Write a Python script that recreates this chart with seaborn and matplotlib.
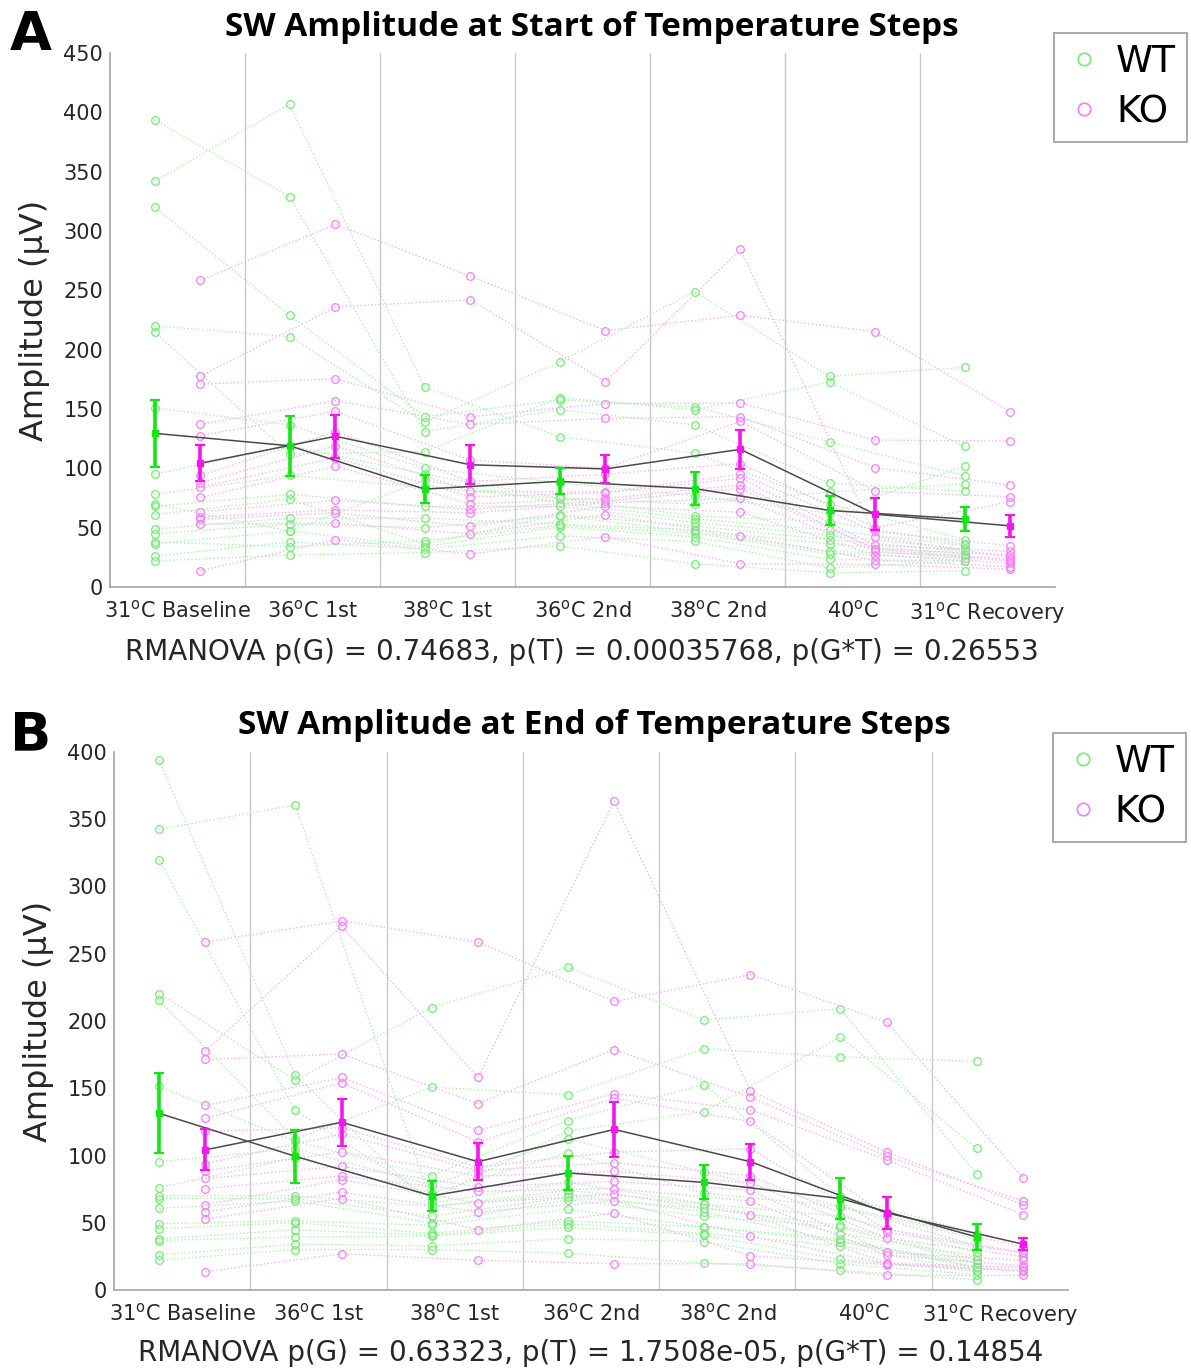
import numpy as np
import pandas as pd
import matplotlib
matplotlib.use("Agg")
import matplotlib.pyplot as plt
import seaborn as sns
from matplotlib.lines import Line2D

# ---------------- data ----------------
CONDITIONS = [r"31$^{\mathrm{o}}$C Baseline", r"36$^{\mathrm{o}}$C 1st", r"38$^{\mathrm{o}}$C 1st",
              r"36$^{\mathrm{o}}$C 2nd", r"38$^{\mathrm{o}}$C 2nd", r"40$^{\mathrm{o}}$C",
              r"31$^{\mathrm{o}}$C Recovery"]
GROUPS = ["WT", "KO"]

TITLE_A = "SW Amplitude at Start of Temperature Steps"
TITLE_B = "SW Amplitude at End of Temperature Steps"
STATS_A = "RMANOVA p(G) = 0.74683, p(T) = 0.00035768, p(G*T) = 0.26553"
STATS_B = "RMANOVA p(G) = 0.63323, p(T) = 1.7508e-05, p(G*T) = 0.14854"

# individual animals (rows) x conditions (columns)
A_WT = [
    [393.5, 329, 131, 149.5, 136.5, 87.6, 80.6],
    [342, 406.8, 168.5, 126.5, 113, 70, 40],
    [320, 229, 143.5, 157.6, 152, 122.3, 93.6],
    [220, 211, 139, 189.6, 249, 177.6, 185],
    [215, 112, 114, 159.5, 149.5, 172.7, 118.4],
    [151, 136.5, 100, 88, 77, 62, 102],
    [95, 119, 95, 75, 70, 80, 87],
    [78, 94, 84, 74.6, 60, 55, 36.2],
    [70, 47, 90, 71, 57.4, 48, 35],
    [68, 78, 68, 68, 54.4, 43.8, 31.7],
    [61, 74, 36, 61, 51.3, 40, 30],
    [49, 58, 58, 53, 48, 36.2, 28],
    [45, 53, 50, 60, 46.8, 30, 26.6],
    [38, 34, 39, 52, 45.3, 28, 24.2],
    [36.5, 47, 34, 50.7, 42.3, 23.3, 22],
    [26, 38, 32, 43, 38.4, 16, 22],
    [22, 27, 29, 34.7, 19.6, 12, 13.6],
]
A_KO = [
    [258.5, 305.6, 262, 216, 229, 215, 147.7],
    [177.5, 236, 242, 173, 284.5, 42.3, 25],
    [171, 175.5, 143.5, 154.6, 155, 123.8, 123],
    [137, 157, 137, 142, 143.5, 100.6, 85.8],
    [127.5, 148, 107, 100, 139.5, 80.6, 76],
    [94, 131, 89, 95, 104, 50, 72],
    [88, 119, 80.6, 80, 95, 46.8, 34.7],
    [84, 109, 76, 79.4, 91.5, 35, 30],
    [75.5, 102, 70, 74.6, 86, 32.3, 27],
    [63.5, 73, 65.5, 72.5, 83, 31.7, 23.3],
    [59, 65, 62.5, 71, 74.6, 30, 22],
    [57, 62.5, 51, 68, 63, 27, 20],
    [53, 54, 44.7, 61, 43, 22.7, 17],
    [13.6, 40, 27.8, 42.3, 19.6, 19, 15],
]
B_WT = [
    [394, 160, 62, 71.4, 58.1, 36, 20],
    [342.5, 360.6, 64.8, 80, 64.2, 42, 25],
    [320, 133.5, 68, 118, 132.7, 188.1, 105.3],
    [220.4, 156, 210, 239.9, 200.7, 209.2, 86.1],
    [215.3, 112.2, 150.8, 145.2, 179.4, 173.2, 170],
    [151.4, 110.6, 85, 126, 152.7, 70, 42],
    [95.4, 105, 78, 112.2, 88, 62.1, 38],
    [76.2, 98, 72, 102, 72, 62, 33],
    [70, 70.1, 62.1, 74, 64, 55, 28],
    [68, 68, 55, 68.8, 60.8, 48, 22.1],
    [60.8, 66.1, 50.1, 67, 55, 46.6, 20],
    [49.3, 51.4, 48, 60, 47, 38.1, 17],
    [45.6, 50.1, 42.1, 51.4, 46.9, 36, 16.8],
    [38.1, 44.8, 40.8, 49.3, 42.1, 32.8, 14.1],
    [36.8, 39.4, 40, 46.6, 40.8, 22.7, 14],
    [26.1, 34.1, 32.8, 38.1, 36, 19.5, 11.5],
    [22.1, 30.1, 30.1, 27.4, 20, 14.7, 7.5],
]
B_KO = [
    [258.8, 274.5, 258.8, 214.5, 234.5, 199, 83.4],
    [177.8, 270.5, 158, 363.2, 147.9, 102.6, 63.4],
    [171.4, 175.4, 138.6, 178.8, 143.4, 99.4, 66.1],
    [137.2, 158, 118.6, 146, 134, 96.7, 56],
    [127.7, 154, 110, 142.6, 125.3, 55, 32],
    [118, 120.7, 91.4, 102.6, 105, 45, 28],
    [94, 116, 88.7, 94.6, 85, 42.9, 27.4],
    [88.7, 102.6, 84.7, 88.2, 79.4, 38.6, 24.8],
    [82.9, 92, 76.8, 80.7, 74.1, 28, 22],
    [75.4, 84.7, 73.3, 75.4, 66.1, 26, 18],
    [63.4, 82, 64.8, 71.4, 56, 20, 16.8],
    [58.1, 72.8, 58.1, 66.1, 40, 19.5, 14.7],
    [52.8, 68, 44.8, 57.3, 25.3, 18.9, 14],
    [13.6, 26.9, 22.1, 19.5, 19.5, 10.9, 10.9],
]

# group means and SEM
A_WT_MEAN = [129.5, 119, 82.5, 89, 83, 64.5, 57.3]
A_WT_SEM = [28, 25.5, 11.5, 11, 13.5, 12, 10.5]
A_KO_MEAN = [104.3, 127, 103, 99.5, 116, 61.3, 51.5]
A_KO_SEM = [15, 18, 16.5, 11.6, 16.6, 13.5, 9]
B_WT_MEAN = [131.4, 99.4, 70, 87, 80, 68, 39.4]
B_WT_SEM = [29.6, 19.6, 11.3, 12.7, 12.7, 15, 10]
B_KO_MEAN = [104.2, 124.7, 95.4, 119.4, 95.4, 57.3, 34.1]
B_KO_SEM = [15.3, 17.3, 13.7, 20.4, 13.4, 11.6, 4.5]

# ---------------- style ----------------
sns.set_theme(style="white")
plt.rcParams["font.family"] = ["DejaVu Sans"]
plt.rcParams["mathtext.fontset"] = "dejavusans"

OFFSET = {"WT": -0.17, "KO": 0.17}
LINE_COL = {"WT": "#a8f5a8", "KO": "#f9aef9"}
MARK_COL = {"WT": "#72ee72", "KO": "#fb7cfb"}
ERR_COL = {"WT": "#14e614", "KO": "#f516ee"}
TEXT_COL = "#262626"
AX_COL = "#a6a6a6"

W, H = 1191, 1370
fig = plt.figure(figsize=(W / 100, H / 100), dpi=100)


def long_df(table, group):
    rows = []
    for s, vals in enumerate(table):
        for c, v in enumerate(vals):
            rows.append({"subject": f"{group}{s}", "x": c + 1 + OFFSET[group], "value": v})
    return pd.DataFrame(rows)


def panel(rect, tables, means, sems, ymax, title, stats, letter, title_xy, letter_xy, stats_xy, legend_xy):
    ax = fig.add_axes(rect)
    for g in GROUPS:
        df = long_df(tables[g], g)
        sns.lineplot(data=df, x="x", y="value", units="subject", estimator=None, sort=False,
                     color=LINE_COL[g], linestyle=":", linewidth=1.0,
                     marker="o", markersize=5.5, markerfacecolor="none",
                     markeredgecolor=MARK_COL[g], markeredgewidth=0.9,
                     legend=False, ax=ax, zorder=2)
    for g in GROUPS:
        xs = np.arange(1, 8) + OFFSET[g]
        ax.plot(xs, means[g], color="#4a4a4a", lw=1.1, zorder=4)
        ax.errorbar(xs, means[g], yerr=sems[g], fmt="s", color=ERR_COL[g], ms=5,
                    elinewidth=2.6, capsize=3.5, capthick=1.6, zorder=5)
    for b in np.arange(1.5, 7.5, 1.0):
        ax.axvline(b, color="#c9c9c9", lw=1.0, zorder=1)
    ax.set_xlim(0.5, 7.5)
    ax.set_ylim(0, ymax)
    ax.set_yticks(np.arange(0, ymax + 1, 50))
    ax.set_xticks(np.arange(1, 8))
    ax.set_xticklabels(CONDITIONS)
    ax.set_xlabel("")
    ax.set_ylabel("Amplitude (μV)", fontsize=23, color=TEXT_COL)
    ax.yaxis.set_label_coords(-0.063, 0.5)
    ax.tick_params(axis="both", direction="in", length=6, width=1, color=AX_COL,
                   labelsize=15, labelcolor=TEXT_COL)
    ax.tick_params(axis="x", pad=9, labelsize=15)
    ax.tick_params(axis="y", pad=5)
    for side in ["top", "right"]:
        ax.spines[side].set_visible(False)
    for side in ["left", "bottom"]:
        ax.spines[side].set_color(AX_COL)
        ax.spines[side].set_linewidth(1.2)
    fig.text(title_xy[0] / W, 1 - title_xy[1] / H, title, ha="center", va="baseline",
             fontsize=24, fontweight="bold", family=["Open Sans", "DejaVu Sans"], color="black")
    fig.text(letter_xy[0] / W, 1 - letter_xy[1] / H, letter, ha="left", va="baseline",
             fontsize=39, fontweight="bold", color="black")
    fig.text(stats_xy[0] / W, 1 - stats_xy[1] / H, stats, ha="center", va="baseline",
             fontsize=20, color=TEXT_COL)
    handles = [Line2D([], [], ls="none", marker="o", ms=9, mfc="none",
                      mec=MARK_COL[g], mew=1.2) for g in GROUPS]
    leg = fig.legend(handles, GROUPS, loc="upper left",
                     bbox_to_anchor=(legend_xy[0] / W, 1 - legend_xy[1] / H),
                     fontsize=27, frameon=True, fancybox=False, borderaxespad=0,
                     handlelength=1.0, handletextpad=0.35, borderpad=0.3, labelspacing=0.38)
    leg.get_frame().set_edgecolor("#8c8c8c")
    leg.get_frame().set_linewidth(1.3)
    for t in leg.get_texts():
        t.set_color("black")
    return ax


panel([110 / W, 1 - 587 / H, 945 / W, 534 / H],
      {"WT": A_WT, "KO": A_KO}, {"WT": A_WT_MEAN, "KO": A_KO_MEAN},
      {"WT": A_WT_SEM, "KO": A_KO_SEM}, 450, TITLE_A, STATS_A, "A",
      (592, 36), (10, 50), (582, 660), (1054, 33))
panel([114 / W, 1 - 1290 / H, 954 / W, 538 / H],
      {"WT": B_WT, "KO": B_KO}, {"WT": B_WT_MEAN, "KO": B_KO_MEAN},
      {"WT": B_WT_SEM, "KO": B_KO_SEM}, 400, TITLE_B, STATS_B, "B",
      (594, 734), (10, 750), (591, 1361), (1053, 733))

fig.savefig("out.png", dpi=100, facecolor="white")
